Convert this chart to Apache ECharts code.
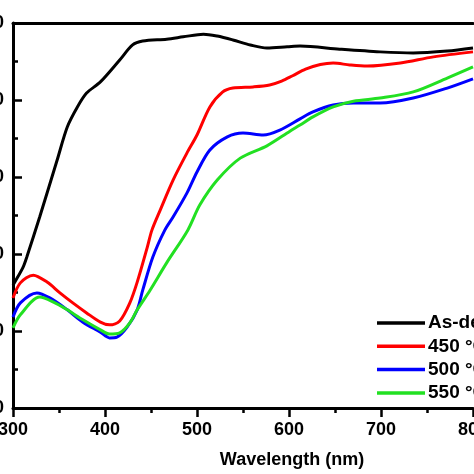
<!DOCTYPE html>
<html>
<head>
<meta charset="utf-8">
<script src="https://cdn.jsdelivr.net/npm/echarts@6/dist/echarts.min.js"></script>
<style>html,body{margin:0;padding:0;background:#fff;}#c{width:474px;height:474px;}</style>
</head>
<body>
<div id="c"></div>
<script>
// Data
const seriesNames = ['As-deposited', '450 \u00b0C', '500 \u00b0C', '550 \u00b0C'];
const xTickLabels = [300, 400, 500, 600, 700, 800];
const yTickLabels = [0, 20, 40, 60, 80, 100];

const blackNm  = [300,302,311,315,329,348,359,370,380,395,416,430,441,467,485,507,522,539,558,576,598,612,655,699,735,772,800];
const blackVal = [31.9,32.7,36.6,39.2,49.6,64.4,73.0,78.2,81.8,84.7,90.4,94.3,95.3,95.8,96.4,97.1,96.6,95.6,94.3,93.5,93.8,94.0,93.2,92.5,92.2,92.7,93.5];

const redNm  = [300,308,322,337,351,365,380,395,405,416,427,435,446,451,460,474,489,500,514,528,539,561,579,592,604,618,634,648,666,685,721,757,800];
const redVal = [28.6,32.5,34.5,32.7,29.9,27.3,24.7,22.3,21.6,22.6,27.3,32.7,41.8,46.2,51.4,59.2,66.2,70.9,78.2,82.1,83.1,83.4,83.9,84.9,86.3,88.0,89.2,89.6,89.1,88.8,89.6,91.2,92.5];

const blueNm  = [300,308,326,340,359,376,395,405,413,424,435,441,452,465,474,489,500,514,533,550,572,590,612,626,648,670,699,735,772,800];
const blueVal = [23.6,27.3,29.9,28.6,25.5,22.3,19.7,18.2,18.4,21.0,25.5,30.6,39.2,46.2,49.6,55.8,61.3,67.0,70.4,71.4,70.9,72.2,75.1,76.9,78.7,79.2,79.2,80.5,83.1,85.5];

const greenNm  = [300,308,329,344,359,376,395,405,416,427,435,449,467,490,503,522,547,576,601,612,626,648,670,699,735,772,800];
const greenVal = [20.8,24.2,28.8,27.5,25.5,22.9,20.3,19.2,19.5,22.1,25.5,30.6,37.7,46.2,52.7,59.2,64.9,68.1,71.9,73.5,75.6,78.2,79.7,80.5,82.1,85.7,88.6];

const colors = ['#000000', '#ff0000', '#0000ff', '#22e022'];
const zip = (a, b) => a.map((v, i) => [v, b[i]]);
const dataSets = [zip(blackNm, blackVal), zip(redNm, redVal), zip(blueNm, blueVal), zip(greenNm, greenVal)];

const FONT = 'Liberation Sans, Arial, sans-serif';
const LEGEND_ICON = 'path://M0,0 L48,0 L48,3.5 L0,3.5 Z';
const chart = echarts.init(document.getElementById('c'), null, {renderer: 'canvas'});
chart.setOption({
  animation: false,
  backgroundColor: '#fff',
  grid: {left: 13, right: 1, top: 23, bottom: 66, containLabel: false, outerBoundsMode: 'none'},
  legend: {
    orient: 'vertical', left: 377, top: 313.5, padding: 0,
    itemWidth: 48, itemHeight: 18, itemGap: 4.3,
    icon: LEGEND_ICON,
    textStyle: {fontFamily: FONT, fontWeight: 'bold', fontSize: 19, color: '#000', padding: [0,0,0,-2]},
    data: seriesNames
  },
  graphic: [{
    type: 'text', x: 292, y: 460,
    style: {text: 'Wavelength (nm)', font: 'bold 18px ' + FONT, fill: '#000', textAlign: 'center', textVerticalAlign: 'middle'}
  }],
  xAxis: [{
    type: 'value', min: 300, max: 800, interval: 100,
    axisLine: {show: true, onZero: false, lineStyle: {color: '#000', width: 3}},
    axisTick: {show: true, inside: false, length: 9, lineStyle: {color: '#000', width: 2.5}},
    minorTick: {show: true, splitNumber: 2, length: 5, lineStyle: {color: '#000', width: 2.5}},
    splitLine: {show: false},
    axisLabel: {margin: 13, fontFamily: FONT, fontWeight: 'bold', fontSize: 18, color: '#000',
      formatter: v => xTickLabels.includes(v) ? String(v) : ''}
  }, {
    type: 'value', position: 'top', min: 300, max: 800,
    axisLine: {show: true, onZero: false, lineStyle: {color: '#000', width: 3}},
    axisTick: {show: false}, axisLabel: {show: false}, splitLine: {show: false}
  }],
  yAxis: {
    type: 'value', min: 0, max: 100, interval: 20,
    axisLine: {show: true, onZero: false, lineStyle: {color: '#000', width: 3}},
    axisTick: {show: true, inside: true, length: 9, lineStyle: {color: '#000', width: 2.5}},
    minorTick: {show: true, splitNumber: 2, length: 5, lineStyle: {color: '#000', width: 2.5}},
    splitLine: {show: false},
    axisLabel: {margin: 9, fontFamily: FONT, fontWeight: 'bold', fontSize: 18, color: '#000',
      formatter: v => yTickLabels.includes(v) ? String(v) : ''}
  },
  series: seriesNames.map((n, i) => ({
    name: n, type: 'line', data: dataSets[i], smooth: 0.3, showSymbol: false, symbol: 'none',
    lineStyle: {color: colors[i], width: 3}, itemStyle: {color: colors[i]}, z: 2
  }))
});
</script>
</body>
</html>
